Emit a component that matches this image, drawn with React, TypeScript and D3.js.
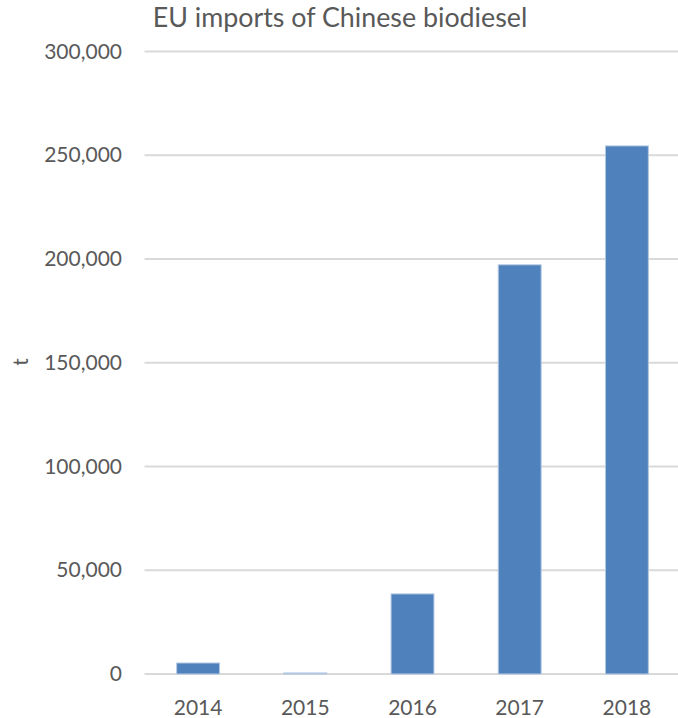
import React from "react";
import * as d3 from "d3";

const title = "EU imports of Chinese biodiesel";
const yAxisLabel = "t";
const categories = ["2014", "2015", "2016", "2017", "2018"];
const values = [5300, 500, 38600, 197200, 254500];
const yTicks = [0, 50000, 100000, 150000, 200000, 250000, 300000];

const W = 678;
const H = 718;
const FONT = "Lato, 'Open Sans', sans-serif";
const TEXT = "#595959";

export default function App() {
  const x = d3
    .scaleBand<string>()
    .domain(categories)
    .range([144.5, 680.5])
    .paddingInner(0.6)
    .paddingOuter(0.3);
  const y = d3.scaleLinear().domain([0, 300000]).range([674, 51.5]);
  const fmt = d3.format(",");

  return (
    <svg
      width={W}
      height={H}
      style={{ position: "absolute", left: 0, top: 0, background: "#fff" }}
      fontFamily={FONT}
    >
      <text x={340} y={27} textAnchor="middle" fontSize={26.8} fill={TEXT}>
        {title}
      </text>
      {yTicks.map((t) => (
        <g key={t}>
          <line
            x1={144.5}
            x2={W}
            y1={y(t)}
            y2={y(t)}
            stroke="#d9d9d9"
            strokeWidth={2}
          />
          <text
            x={122}
            y={y(t) + 7}
            textAnchor="end"
            fontSize={21}
            fill={TEXT}
          >
            {fmt(t)}
          </text>
        </g>
      ))}
      {categories.map((c, i) => (
        <rect
          key={c}
          x={x(c)}
          y={y(values[i])}
          width={x.bandwidth()}
          height={y(0) - y(values[i])}
          fill="#4f81bd"
          stroke="#b4c8e2"
          strokeWidth={1}
        />
      ))}
      {categories.map((c) => (
        <text
          key={c}
          x={(x(c) as number) + x.bandwidth() / 2}
          y={715}
          textAnchor="middle"
          fontSize={21}
          fill={TEXT}
        >
          {c}
        </text>
      ))}
      <text
        transform={`translate(28,362) rotate(-90)`}
        textAnchor="middle"
        fontSize={21}
        fill={TEXT}
      >
        {yAxisLabel}
      </text>
    </svg>
  );
}
